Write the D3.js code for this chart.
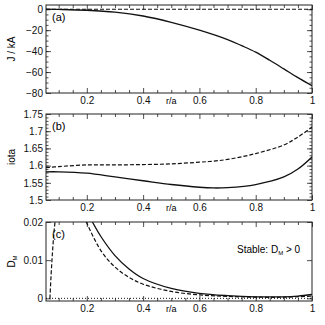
<!DOCTYPE html>
<html>
<head>
<meta charset="utf-8">
<script src="https://cdn.jsdelivr.net/npm/d3@7"></script>
<style>
  body { margin: 0; background: #fff; }
  text { font-family: "Liberation Sans", Arial, sans-serif; }
</style>
</head>
<body>
<svg id="chart" width="325" height="325"></svg>
<script>
// r/a positions and values
var currentR     = [0.055, 0.1, 0.2, 0.3, 0.4, 0.5, 0.6, 0.7, 0.75, 0.8, 0.85, 0.9, 0.95, 1.0];
var currentJ     = [0, -0.2, -1, -2.8, -6.5, -12.5, -20, -29, -34.8, -41, -48.8, -57, -65.3, -73];
var currentZero  = [0, 0];

var iotaR        = [0.055, 0.1, 0.2, 0.3, 0.4, 0.5, 0.6, 0.65, 0.7, 0.8, 0.9, 0.95, 1.0];
var iotaSolid    = [1.582, 1.582, 1.578, 1.567, 1.556, 1.545, 1.537, 1.535, 1.536, 1.545, 1.567, 1.59, 1.625];
var iotaDashed   = [1.594, 1.597, 1.602, 1.602, 1.603, 1.605, 1.61, 1.613, 1.618, 1.635, 1.66, 1.683, 1.712];

var dmSolidR     = [0.22, 0.25, 0.3, 0.35, 0.4, 0.5, 0.6, 0.7, 0.8, 0.9, 0.95, 1.0];
var dmSolid      = [0.02, 0.0162, 0.0112, 0.0077, 0.0052, 0.0026, 0.0013, 0.0007, 0.0004, 0.0004, 0.0006, 0.001];
var dmDashedR    = [0.198, 0.25, 0.3, 0.35, 0.4, 0.5, 0.6, 0.7, 0.8, 0.9, 1.0];
var dmDashed     = [0.02, 0.0125, 0.0082, 0.0055, 0.0037, 0.0018, 0.0009, 0.0005, 0.0003, 0.0003, 0.0006];
var dmEdgeR      = [0.069, 0.073, 0.078, 0.083, 0.087];
var dmEdge       = [0, 0.006, 0.012, 0.017, 0.02];

var xTicks  = [0.2, 0.4, 0.6, 0.8, 1];
var yTicksA = [0, -20, -40, -60, -80];
var yTicksB = [1.5, 1.55, 1.6, 1.65, 1.7, 1.75];
var yTicksC = [0, 0.01, 0.02];

var svg = d3.select("#chart");
var left = 46, right = 312;

var x = d3.scaleLinear().domain([0.055, 1]).range([left, right]);
var xMinor = d3.range(0.1, 1.001, 0.05).filter(function(d) { return Math.abs(d * 5 - Math.round(d * 5)) > 1e-6; });

function zip(a, b) { return a.map(function(d, i) { return [d, b[i]]; }); }

var panels = [
  { top: 5, bottom: 93, domain: [-80, 4], ticks: yTicksA, minor: d3.range(-75, 1, 5),
    fmt: function(d) { return d3.format("d")(d); }, label: "J / kA", tag: "(a)" },
  { top: 114, bottom: 200, domain: [1.5, 1.75], ticks: yTicksB, minor: d3.range(1.51, 1.75, 0.01),
    fmt: function(d) { return String(+d.toFixed(2)); }, label: "iota", tag: "(b)" },
  { top: 222, bottom: 301, domain: [-0.0007, 0.02], ticks: yTicksC, minor: [],
    fmt: function(d) { return String(+d.toFixed(2)); }, label: "D", sub: "M", tag: "(c)" }
];

panels.forEach(function(p, i) {
  p.y = d3.scaleLinear().domain(p.domain).range([p.bottom, p.top]);
  var g = svg.append("g").attr("class", "panel");

  g.append("clipPath").attr("id", "clip" + i)
    .append("rect").attr("x", left).attr("y", p.top)
    .attr("width", right - left).attr("height", p.bottom - p.top);

  // axes: inward ticks on all four sides
  function ax(axis, tx, ty, size, vals, labels, pad) {
    var a = axis.tickValues(vals).tickSize(-size).tickPadding(pad || 3);
    if (!labels) a.tickFormat("");
    var sel = g.append("g").attr("transform", "translate(" + tx + "," + ty + ")").call(a);
    sel.select(".domain").remove();
    sel.selectAll("line").attr("stroke", "#222").attr("stroke-width", 0.8);
    sel.selectAll("text").attr("font-size", 10).attr("fill", "#111");
    return sel;
  }
  ax(d3.axisBottom(x).tickFormat(function(d) { return d === 1 ? "1" : d3.format(".1f")(d); }),
     0, p.bottom, 5, xTicks, true, 4);
  ax(d3.axisBottom(x), 0, p.bottom, 3, xMinor, false);
  ax(d3.axisTop(x), 0, p.top, 5, xTicks, false);
  ax(d3.axisTop(x), 0, p.top, 3, xMinor, false);
  ax(d3.axisLeft(p.y).tickFormat(p.fmt), left, 0, 5, p.ticks, true, 3);
  ax(d3.axisLeft(p.y), left, 0, 2.5, p.minor, false);
  ax(d3.axisRight(p.y), right, 0, 5, p.ticks, false);
  ax(d3.axisRight(p.y), right, 0, 2.5, p.minor, false);

  g.append("rect").attr("x", left).attr("y", p.top)
    .attr("width", right - left).attr("height", p.bottom - p.top)
    .attr("fill", "none").attr("stroke", "#222").attr("stroke-width", 1);

  g.append("text").attr("x", x(0.5)).attr("y", p.bottom + 11)
    .attr("text-anchor", "middle").attr("font-size", 9).text("r/a");

  g.append("text").attr("x", left + 6).attr("y", p.top + 16)
    .attr("font-size", 11).text(p.tag);

  var yl = g.append("text")
    .attr("transform", "translate(" + 15 + "," + ((p.top + p.bottom) / 2) + ") rotate(-90)")
    .attr("text-anchor", "middle").attr("font-size", 10).text(p.label);
  if (p.sub) yl.append("tspan").attr("font-size", 6).attr("dy", 2).text(p.sub);

  p.g = g.append("g").attr("clip-path", "url(#clip" + i + ")");
  p.line = d3.line().x(function(d) { return x(d[0]); }).y(function(d) { return p.y(d[1]); })
    .curve(d3.curveCatmullRom);
});

function draw(p, pts, dash, w) {
  p.g.append("path").attr("d", p.line(pts)).attr("fill", "none")
    .attr("stroke", "#111").attr("stroke-width", w || 1.3)
    .attr("stroke-dasharray", dash || null);
}

// (a)
draw(panels[0], zip([0.055, 1], currentZero), "4,2", 1.1);
draw(panels[0], zip(currentR, currentJ));
// (b)
draw(panels[1], zip(iotaR, iotaDashed), "4,2", 1.2);
draw(panels[1], zip(iotaR, iotaSolid));
// (c)
draw(panels[2], zip([0.055, 1], [0, 0]), "1,2", 1);
draw(panels[2], zip(dmEdgeR, dmEdge), "4,2", 1.2);
draw(panels[2], zip(dmDashedR, dmDashed), "4,2", 1.2);
draw(panels[2], zip(dmSolidR, dmSolid));

var st = svg.append("text").attr("x", 237).attr("y", 253).attr("font-size", 10).text("Stable: D");
st.append("tspan").attr("font-size", 6).attr("dy", 2).text("M");
st.append("tspan").attr("dy", -2).text(" > 0");
</script>
</body>
</html>
